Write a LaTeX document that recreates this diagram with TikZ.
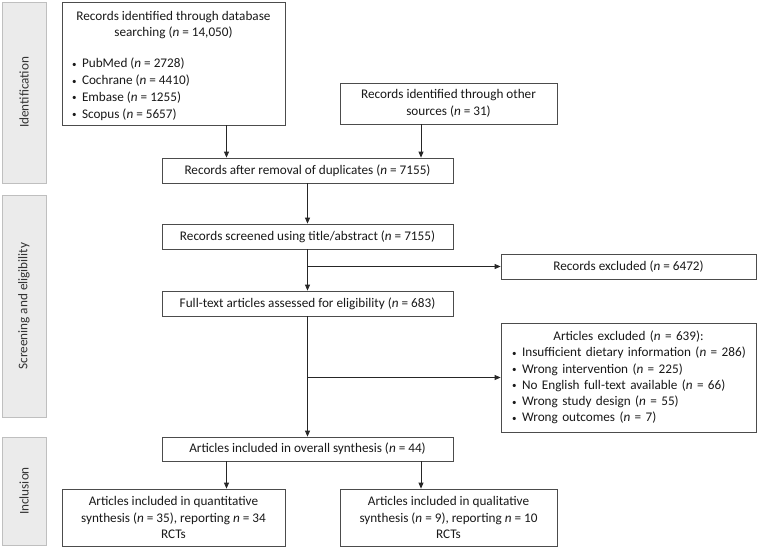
\documentclass[tikz,border=0pt]{standalone}
\usepackage{fontspec}
\setmainfont{Carlito}
\usetikzlibrary{arrows.meta}
\setlength{\parskip}{0pt}
\newcommand\bul[1]{\mbox{\hspace*{6pt}\makebox[10pt][l]{\raisebox{0.5pt}{\fontsize{9}{9}\selectfont •}}#1}}
\newcommand\nn{\textit{n}}
\begin{document}
\begin{tikzpicture}[x=1pt,y=-1pt,
  every node/.style={font=\fontsize{13.2}{16.7}\selectfont, text=black!90},
  box/.style={draw=black!70, line width=0.8pt, fill=white, inner sep=0pt, align=center},
  bar/.style={draw=black!25, fill=black!8, line width=0.8pt, minimum width=44pt, inner sep=0pt},
  barlabel/.style={rotate=90, text=black!80},
  arr/.style={-{Triangle[length=6pt,width=5pt]}, line width=0.8pt, draw=black!85}]
\useasboundingbox (0,0) rectangle (758,547);
% side bars
\node[bar, minimum height=181pt] (idbar) at (24,92.5) {};
\node[barlabel] (idlab) at (idbar.center) {Identification};
\node[bar, minimum height=222pt] (scbar) at (24,306) {};
\node[barlabel] (sclab) at (scbar.center) {Screening and eligibility};
\node[bar, minimum height=108pt] (inbar) at (24,491) {};
\node[barlabel] (inlab) at (inbar.center) {Inclusion};
% boxes
\node[box, minimum width=223pt, minimum height=123pt] (db) at (173.5,63.5)
 {\raisebox{-2pt}[\height][\depth]{\parbox{215pt}{\setlength{\parskip}{0pt}%
  \centering Records identified through database\\ searching (\nn{} = 14,050)\par\vspace{14.5pt}\raggedright
  \bul{PubMed (\nn{} = 2728)}\\
  \bul{Cochrane (\nn{} = 4410)}\\
  \bul{Embase (\nn{} = 1255)}\\
  \bul{Scopus (\nn{} = 5657)}}}};
\node[box, minimum width=217pt, minimum height=41pt] (other) at (448.5,103.5)
 {Records identified through other\\ sources (\nn{} = 31)};
\node[box, minimum width=291pt, minimum height=25pt] (dup) at (307.5,170.5)
 {Records after removal of duplicates (\nn{} = 7155)};
\node[box, minimum width=291pt, minimum height=25pt] (scr) at (307.5,236.5)
 {Records screened using title/abstract (\nn{} = 7155)};
\node[box, minimum width=255pt, minimum height=25pt] (excl1) at (628.5,266.5)
 {Records excluded (\nn{} = 6472)};
\node[box, minimum width=255pt, minimum height=109pt, text width=245pt, align=left,
  font=\fontsize{13.2}{16.2}\selectfont] (excl2) at (628.5,377.5)
 {\setlength{\parskip}{0pt}\centering Articles excluded (\nn{} = 639):\par\raggedright
  \bul{Insufficient dietary information (\nn{} = 286)}\\
  \bul{Wrong intervention (\nn{} = 225)}\\
  \bul{No English full-text available (\nn{} = 66)}\\
  \bul{Wrong study design (\nn{} = 55)}\\
  \bul{Wrong outcomes (\nn{} = 7)}\par};
\node[box, minimum width=291pt, minimum height=25pt] (full) at (307.5,303.5)
 {Full-text articles assessed for eligibility (\nn{} = 683)};
\node[box, minimum width=291pt, minimum height=24pt] (overall) at (307.5,449)
 {Articles included in overall synthesis (\nn{} = 44)};
\node[box, minimum width=223pt, minimum height=57pt] (quant) at (173.5,517.5)
 {Articles included in quantitative\\ synthesis (\nn{} = 35), reporting \nn{} = 34\\ RCTs};
\node[box, minimum width=217pt, minimum height=57pt] (qual) at (448.5,517.5)
 {Articles included in qualitative\\ synthesis (\nn{} = 9), reporting \nn{} = 10\\ RCTs};
% connectors
\coordinate (ax) at (226.5,0);
\coordinate (bx) at (421,0);
\draw[arr] (db.south -| ax) -- (dup.north -| ax);
\draw[arr] (other.south -| bx) -- (dup.north -| bx);
\draw[arr] (dup.south) -- (scr.north);
\draw[arr] (scr.south) -- (full.north);
\coordinate (b1) at (scr.south |- excl1.west);
\draw[arr] (b1) -- (excl1.west);
\draw[arr] (full.south) -- (overall.north);
\coordinate (b2) at (full.south |- excl2.west);
\draw[arr] (b2) -- (excl2.west);
\draw[arr] (overall.south -| ax) -- (quant.north -| ax);
\draw[arr] (overall.south -| bx) -- (qual.north -| bx);
\end{tikzpicture}
\end{document}
